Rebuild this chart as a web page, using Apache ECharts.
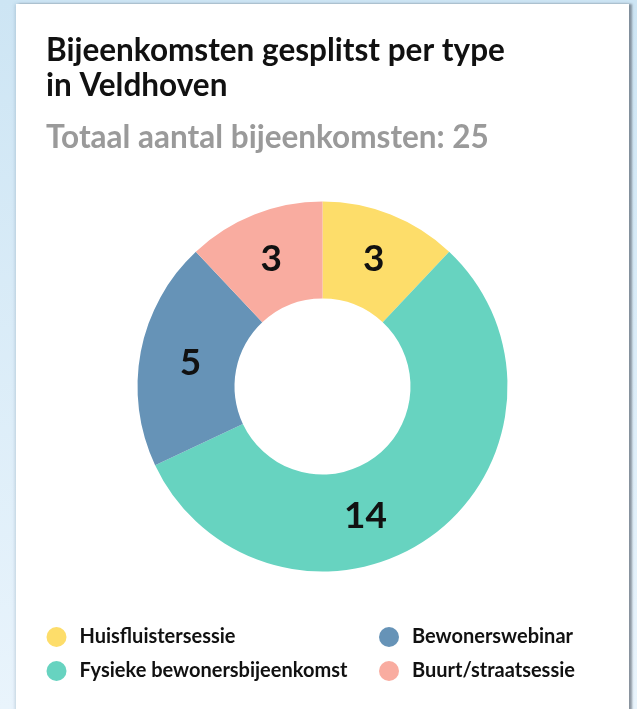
<!DOCTYPE html>
<html>
<head>
<meta charset="utf-8">
<script src="https://cdn.jsdelivr.net/npm/echarts@6/dist/echarts.min.js"></script>
<style>
  html, body { margin: 0; padding: 0; width: 637px; height: 709px; overflow: hidden;
    background: linear-gradient(180deg, #cde5f4 0%, #e9f4fc 100%); }
  #card { position: absolute; left: 16px; top: 4px; width: 613px; height: 720px; background: #fff;
    box-shadow: 3px 0 2px rgba(90,100,110,0.65), -1px 0 3px rgba(120,150,170,0.35); }
  #chart { position: absolute; left: 0; top: 0; width: 637px; height: 709px; }
</style>
</head>
<body>
<div id="card"></div>
<div id="chart"></div>
<script>
const categories = ['Huisfluistersessie', 'Fysieke bewonersbijeenkomst', 'Bewonerswebinar', 'Buurt/straatsessie'];
const values = [3, 14, 5, 3];
const colors = ['#fddd6a', '#67d3c0', '#6693b7', '#f9aca0'];
const titleText = 'Bijeenkomsten gesplitst per type\nin Veldhoven';
const subtitlePrefix = 'Totaal aantal bijeenkomsten: ';
const legendLeft = ['Huisfluistersessie', 'Fysieke bewonersbijeenkomst'];
const legendRight = ['Bewonerswebinar', 'Buurt/straatsessie'];

const total = values.reduce((a, b) => a + b, 0);
const font = 'Lato, "Open Sans", sans-serif';
const chart = echarts.init(document.getElementById('chart'));
const legendCommon = {
  orient: 'vertical', icon: 'circle', itemWidth: 20, itemHeight: 20, itemGap: 14,
  selectedMode: false,
  textStyle: { fontFamily: font, fontSize: 20, fontWeight: 'bold', color: '#111', padding: [0, 0, 0, 8] }
};
chart.setOption({
  animation: false,
  color: colors,
  title: [
    { text: titleText, left: 41, top: 28,
      textStyle: { fontFamily: font, fontSize: 31.5, fontWeight: 'bold', color: '#111', lineHeight: 35 } },
    { text: subtitlePrefix + total, left: 41, top: 117,
      textStyle: { fontFamily: font, fontSize: 31.5, fontWeight: 'bold', color: '#9a9a9a' } }
  ],
  legend: [
    Object.assign({ data: legendLeft, left: 41.5, top: 622 }, legendCommon),
    Object.assign({ data: legendRight, left: 374, top: 622 }, legendCommon)
  ],
  series: [{
    type: 'pie',
    center: [322.5, 386.5],
    radius: [88, 185],
    startAngle: 90,
    clockwise: true,
    avoidLabelOverlap: false,
    silent: true,
    label: { show: true, position: 'inside', formatter: '{c}',
      fontFamily: font, fontSize: 37, fontWeight: 'bold', color: '#111' },
    labelLine: { show: false },
    labelLayout: function (p) {
      if (p.dataIndex === 1) return { dx: -39, dy: 17 };
      if (p.dataIndex === 2) return { dx: 5, dy: 3 };
      return { dy: 2 };
    },
    data: categories.map((c, i) => ({ name: c, value: values[i] }))
  }]
});
</script>
</body>
</html>
